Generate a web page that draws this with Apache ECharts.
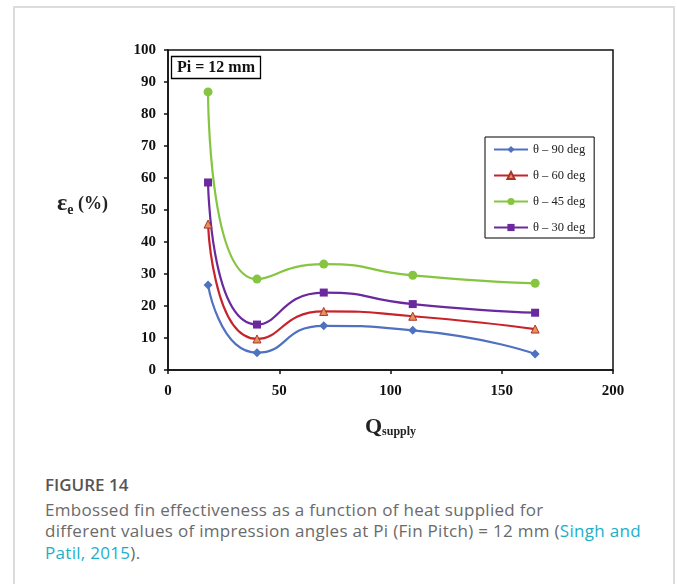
<!DOCTYPE html>
<html>
<head>
<meta charset="utf-8">
<script src="https://cdn.jsdelivr.net/npm/echarts@6/dist/echarts.min.js"></script>
<style>
  html, body { margin: 0; padding: 0; background: #fff; }
  body { width: 677px; height: 584px; position: relative; overflow: hidden; }
  .card { position: absolute; left: 13px; top: 6px; width: 658px; height: 600px;
          border: 2px solid #dcdcdc; border-bottom: none; }
  #main { position: absolute; left: 0; top: 0; width: 677px; height: 450px; }
  .caption { position: absolute; left: 45px; top: 474px; font-family: "Open Sans", Lato, sans-serif;
             color: #6a6a6a; font-size: 17px; letter-spacing: 0.3px; line-height: 21.5px; white-space: nowrap; }
  .caption .fig { color: #555; font-weight: 600; font-size: 17px; letter-spacing: 0; margin-bottom: 3px; }
  .caption a { color: #1ab0c9; text-decoration: none; }
</style>
</head>
<body>
<div class="card"></div>
<div id="main"></div>
<div class="caption">
  <div class="fig">FIGURE 14</div>
  Embossed fin effectiveness as a function of heat supplied for<br>
  different values of impression angles at Pi (Fin Pitch) = 12 mm (<a>Singh and<br>
  Patil, 2015</a>).
</div>
<script>
// heat supplied (x) for each measured point
var qSupply = [18, 40, 70, 110, 165];

// effectiveness (%) per impression angle
var eff90 = [26.6, 5.4, 13.8, 12.4, 5.0];
var eff60 = [45.6, 9.7, 18.3, 16.8, 12.8];
var eff45 = [86.9, 28.4, 33.1, 29.6, 27.1];
var eff30 = [58.6, 14.2, 24.2, 20.6, 17.9];

var seriesNames = ['\u03b8 \u2013 90 deg', '\u03b8 \u2013 60 deg', '\u03b8 \u2013 45 deg', '\u03b8 \u2013 30 deg'];

var serif = '"Liberation Serif", "DejaVu Serif", serif';

function pairs(vals) {
  return qSupply.map(function (q, i) { return [q, vals[i]]; });
}

var chart = echarts.init(document.getElementById('main'));

var option = {
  animation: false,
  title: {
    text: 'Pi = 12 mm',
    left: 171,
    top: 56,
    padding: [4, 6, 3, 6],
    borderColor: '#000',
    borderWidth: 1.3,
    textStyle: { fontFamily: serif, fontWeight: 'bold', fontSize: 16, color: '#111' }
  },
  legend: {
    orient: 'vertical',
    left: 485,
    top: 137,
    padding: [6, 9, 4, 8],
    itemGap: 13,
    itemWidth: 34,
    itemHeight: 9,
    borderColor: '#000',
    borderWidth: 1,
    textStyle: { fontFamily: serif, fontSize: 12.5, color: '#222' },
    data: seriesNames
  },
  grid: {
    left: 168, right: 64, top: 50, bottom: 80,
    show: true,
    borderColor: '#111',
    borderWidth: 1.5
  },
  graphic: [{
    type: 'text',
    left: 57,
    top: 192,
    style: {
      text: '{e|\u03b5}{s|e}{p| (%)}',
      rich: {
        e: { fontFamily: serif, fontWeight: 'bold', fontSize: 24, fill: '#222' },
        s: { fontFamily: serif, fontWeight: 'bold', fontSize: 14, fill: '#222', padding: [12, 0, 0, 0] },
        p: { fontFamily: serif, fontWeight: 'bold', fontSize: 18, fill: '#222' }
      }
    }
  }],
  xAxis: {
    type: 'value',
    min: 0,
    max: 200,
    interval: 50,
    name: '{q|Q}{s|supply}',
    nameLocation: 'middle',
    nameGap: 46,
    nameTextStyle: {
      rich: {
        q: { fontFamily: serif, fontWeight: 'bold', fontSize: 22, color: '#222' },
        s: { fontFamily: serif, fontWeight: 'bold', fontSize: 12, color: '#222', padding: [10, 0, 0, 0] }
      }
    },
    axisLine: { lineStyle: { color: '#111', width: 1.5 } },
    axisTick: { inside: false, length: 4, lineStyle: { color: '#111', width: 1.5 } },
    axisLabel: { fontFamily: serif, fontWeight: 'bold', fontSize: 15, color: '#111', margin: 14 },
    splitLine: { show: false }
  },
  yAxis: {
    type: 'value',
    min: 0,
    max: 100,
    interval: 10,
    axisLine: { show: true, lineStyle: { color: '#111', width: 1.5 } },
    axisTick: { show: true, inside: false, length: 4, lineStyle: { color: '#111', width: 1.5 } },
    axisLabel: { fontFamily: serif, fontWeight: 'bold', fontSize: 15, color: '#111', margin: 12 },
    splitLine: { show: false }
  },
  series: [
    {
      name: seriesNames[0], type: 'line', smooth: 0.6,
      symbol: 'diamond', symbolSize: 9,
      lineStyle: { color: '#4f72c0', width: 2.2 },
      itemStyle: { color: '#4f72c0' },
      data: pairs(eff90)
    },
    {
      name: seriesNames[1], type: 'line', smooth: 0.6,
      symbol: 'triangle', symbolSize: 8,
      lineStyle: { color: '#c8232b', width: 2.2 },
      itemStyle: { color: '#e8915a', borderColor: '#a8342a', borderWidth: 1 },
      data: pairs(eff60)
    },
    {
      name: seriesNames[2], type: 'line', smooth: 0.6,
      symbol: 'circle', symbolSize: 9,
      lineStyle: { color: '#86c540', width: 2.2 },
      itemStyle: { color: '#86c540' },
      data: pairs(eff45)
    },
    {
      name: seriesNames[3], type: 'line', smooth: 0.6,
      symbol: 'rect', symbolSize: 8,
      lineStyle: { color: '#6a2a9e', width: 2.2 },
      itemStyle: { color: '#6a2a9e' },
      data: pairs(eff30)
    }
  ]
};

chart.setOption(option);
</script>
</body>
</html>
